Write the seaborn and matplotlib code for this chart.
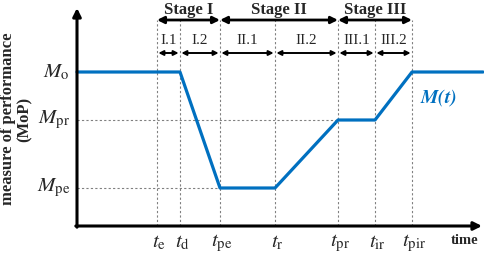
"""Resilience curve: measure of performance over time with stages."""

import matplotlib
matplotlib.use("Agg")
import matplotlib.pyplot as plt
import pandas as pd
import seaborn as sns

# event times (arbitrary units)
time_names = ["e", "d", "pe", "r", "pr", "ir", "pir"]
time_values = [0.80, 1.03, 1.43, 1.98, 2.61, 2.98, 3.35]

# performance levels
level_names = ["o", "pr", "pe"]
level_values = [1.54, 1.06, 0.38]

# M(t) curve through the events
curve_t = [0.0, 1.03, 1.43, 1.98, 2.61, 2.98, 3.35, 4.06]
curve_m = [1.54, 1.54, 0.38, 0.38, 1.06, 1.06, 1.54, 1.54]

# stages and sub-stages as (label, start, end)
stages = [("Stage I", 0.80, 1.43), ("Stage II", 1.43, 2.61), ("Stage III", 2.61, 3.35)]
substages = [("I.1", 0.80, 1.03), ("I.2", 1.03, 1.43), ("II.1", 1.43, 1.98),
             ("II.2", 1.98, 2.61), ("III.1", 2.61, 2.98), ("III.2", 2.98, 3.35)]

BLUE = "#0070C0"


def main() -> None:
    sns.set_theme(style="white")
    plt.rcParams["font.family"] = ["Liberation Serif", "DejaVu Serif"]
    plt.rcParams["mathtext.fontset"] = "stix"

    fig = plt.figure(figsize=(4.84, 2.57), dpi=100)
    ax = fig.add_axes([0, 0, 1, 1])
    ax.set_xlim(-0.77, 4.07)
    ax.set_ylim(-0.31, 2.26)
    ax.axis("off")

    top = 2.06
    grid = dict(color="#808080", lw=0.8, ls=(0, (2, 2)), zorder=1)
    for tv in time_values:
        ax.plot([tv, tv], [0, top], **grid)
    ax.plot([0, 2.61], [1.06, 1.06], **grid)
    ax.plot([0, 1.43], [0.38, 0.38], **grid)

    df = pd.DataFrame({"t": curve_t, "M": curve_m})
    sns.lineplot(data=df, x="t", y="M", ax=ax, color=BLUE, lw=2.3,
                 sort=False, zorder=3)
    ax.set_xlabel("")
    ax.set_ylabel("")

    # axes arrows
    arrow = dict(arrowstyle="-|>", color="black", lw=2.2, mutation_scale=12,
                 shrinkA=0, shrinkB=0)
    ax.annotate("", xy=(0, 2.18), xytext=(0, -0.012), arrowprops=arrow)
    ax.annotate("", xy=(4.05, 0), xytext=(-0.012, 0), arrowprops=arrow)

    # stage arrows
    for label, a, b in stages:
        ax.annotate("", xy=(b, top), xytext=(a, top),
                    arrowprops=dict(arrowstyle="<|-|>", color="black", lw=2.0,
                                    mutation_scale=10, shrinkA=0, shrinkB=0))
        ax.text((a + b) / 2, 2.16, label, ha="center", va="center",
                fontsize=12, fontweight="bold")
    for label, a, b in substages:
        ax.annotate("", xy=(b, 1.73), xytext=(a, 1.73),
                    arrowprops=dict(arrowstyle="<|-|>", color="black", lw=1.4,
                                    mutation_scale=7, shrinkA=1, shrinkB=1))
        ax.text((a + b) / 2, 1.85, label, ha="center", va="center", fontsize=11)

    # tick labels
    for name, lv in zip(level_names, level_values):
        ax.text(-0.07, lv, rf"$M_{{\mathrm{{{name}}}}}$", ha="right", va="center",
                fontsize=15)
    for name, tv in zip(time_names, time_values):
        ax.text(tv + 0.02, -0.17, rf"$t_{{\mathrm{{{name}}}}}$", ha="center",
                va="center", fontsize=15)

    ax.text(3.88, -0.15, "time", ha="center", va="center", fontsize=10.5,
            fontweight="bold")
    ax.text(-0.69, 1.07, "measure of performance", rotation=90, ha="center",
            va="center", fontsize=12, fontweight="bold")
    ax.text(-0.52, 1.07, "(MoP)", rotation=90, ha="center", va="center",
            fontsize=12, fontweight="bold")
    ax.text(3.43, 1.28, r"$\mathbfit{M(t)}$", ha="left", va="center",
            fontsize=14, color=BLUE)

    fig.savefig("out.png", dpi=100)
    plt.close(fig)


if __name__ == "__main__":
    main()
